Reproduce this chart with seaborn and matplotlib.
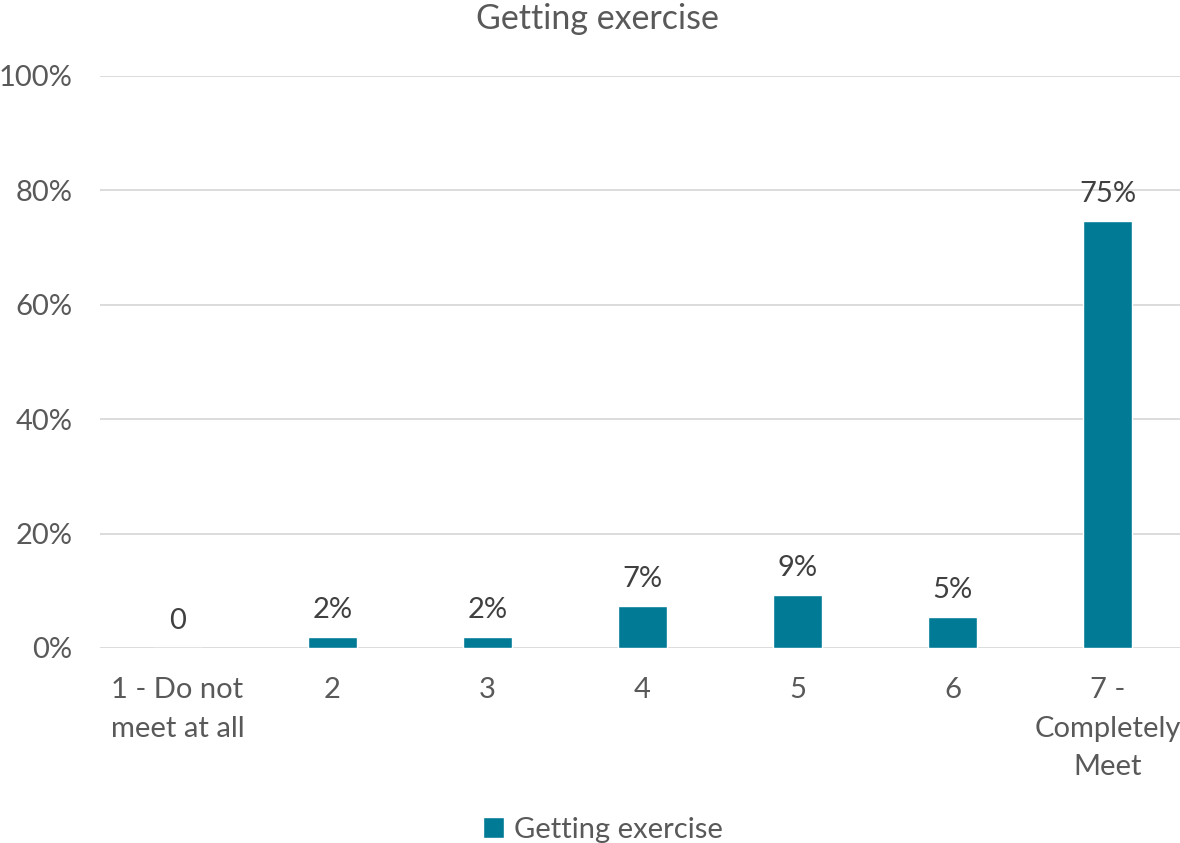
import matplotlib
matplotlib.use("Agg")
import matplotlib.pyplot as plt
import seaborn as sns
import pandas as pd
from matplotlib.ticker import PercentFormatter
from matplotlib.patches import Patch

categories = ["1 - Do not\nmeet at all", "2", "3", "4", "5", "6", "7 -\nCompletely\nMeet"]
shares = [0.0, 0.020, 0.020, 0.074, 0.092, 0.054, 0.747]
series_name = "Getting exercise"

df = pd.DataFrame({"category": categories, "share": shares})

sns.set_theme(style="white")
plt.rcParams["font.family"] = ["Lato", "DejaVu Sans"]

bar_color = "#017A96"
tick_color = "#595959"
label_color = "#404040"

fig = plt.figure(figsize=(11.8, 8.43), dpi=100)
ax = fig.add_axes([100 / 1180, 1 - 648 / 843, 1085 / 1180, (648 - 76) / 843])

sns.barplot(data=df, x="category", y="share", color=bar_color, width=0.32,
            saturation=1, ax=ax)

ax.set_xlim(-0.5, len(categories) - 0.5)
ax.set_ylim(0, 1.0)
ax.set_yticks([0, 0.2, 0.4, 0.6, 0.8, 1.0])
ax.yaxis.set_major_formatter(PercentFormatter(1.0, decimals=0))
ax.grid(axis="y", color="#D9D9D9", linewidth=1.3)
ax.set_axisbelow(True)
for s in ax.spines.values():
    s.set_visible(False)
ax.set_xlabel("")
ax.set_ylabel("")
ax.tick_params(axis="both", length=0, labelsize=21, colors=tick_color)
ax.tick_params(axis="y", pad=20)
ax.tick_params(axis="x", pad=21)
for lbl in ax.get_xticklabels():
    lbl.set_linespacing(1.6)

# value labels above each bar
for i, v in enumerate(shares):
    text = "0" if v == 0 else f"{v * 100:.0f}%"
    ax.annotate(text, (i, v), xytext=(0, 10), textcoords="offset points",
                ha="center", va="bottom", fontsize=21, color=label_color)

fig.text(0.506, 0.978, series_name, ha="center", va="center",
         fontsize=24.5, color=tick_color)

fig.legend(handles=[Patch(facecolor=bar_color, label=series_name)],
           loc="center", bbox_to_anchor=(0.511, 0.016), frameon=False,
           fontsize=21, labelcolor=tick_color, handlelength=0.7,
           handleheight=0.7, handletextpad=0.35)

fig.savefig("out.png", dpi=100)
